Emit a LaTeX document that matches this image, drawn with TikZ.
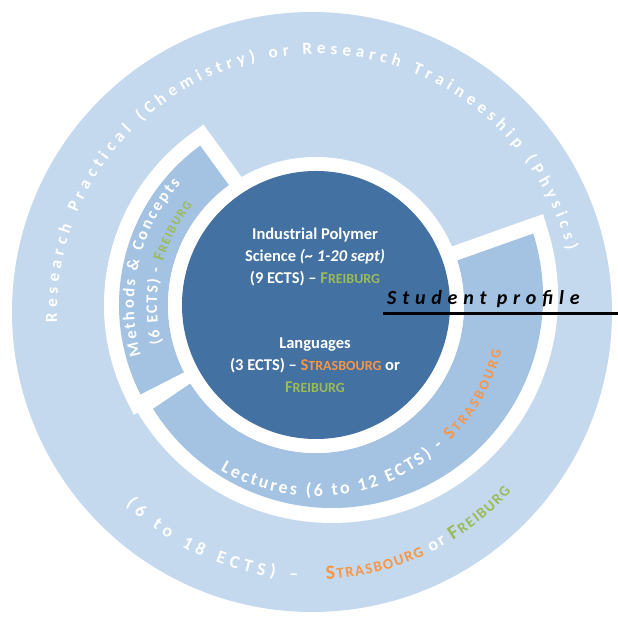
\documentclass[tikz,border=0pt]{standalone}
\usepackage{fontspec}
\setmainfont{Carlito}
\usetikzlibrary{decorations.text}
\definecolor{outerblue}{HTML}{C5D9EE}
\definecolor{midblue}{HTML}{A4C2E2}
\definecolor{darkblue}{HTML}{4271A2}
\definecolor{accorange}{HTML}{F79646}
\definecolor{accgreen}{HTML}{9BBB59}
\newcommand\fsc[2]{#1{\fontsize{14}{14}\selectfont #2}}
\tikzset{
  segborder/.style={draw=white, line width=30pt, line join=miter},
  segfill/.style={fill=midblue},
  centertext/.style={align=center, text=white, font=\fontsize{16.5}{22}\selectfont\bfseries},
}
\begin{document}
\begin{tikzpicture}[x=1pt,y=1pt]
\useasboundingbox (0,0) rectangle (618,618);
\coordinate (O) at (312,306);
\coordinate (T) at (316,305);
\coordinate (C) at (316,313);
\coordinate (M) at (332,321);
\fill[outerblue] (O) circle[radius=300];
% white borders of the two middle segments
\path[segborder] ([shift={(126:148)}]C) arc[start angle=126, end angle=207, radius=148]
  -- ([shift={(207:197)}]C) arc[start angle=207, end angle=126, radius=197] -- cycle;
\path[segborder] ([shift={(212:148)}]C) arc[start angle=212, end angle=377.5, radius=148]
  -- ([shift={(377.5:211)}]M) arc[start angle=377.5, end angle=212, radius=211] -- cycle;
% fills
\path[segfill] ([shift={(126:148)}]C) arc[start angle=126, end angle=207, radius=148]
  -- ([shift={(207:197)}]C) arc[start angle=207, end angle=126, radius=197] -- cycle;
\path[segfill] ([shift={(212:148)}]C) arc[start angle=212, end angle=377.5, radius=148]
  -- ([shift={(377.5:211)}]M) arc[start angle=377.5, end angle=212, radius=211] -- cycle;
\fill[white] (C) circle[radius=148];
\fill[darkblue] (C) circle[radius=134];
% outer ring texts
\path[decorate, decoration={text along path, text align=fit to path,
  text={|\color{white}\fontsize{17}{17}\selectfont\bfseries|Research Practical (Chemistry) or Research Traineeship (Physics)}}]
  ([shift={(182:259)}]T) arc[start angle=182, end angle=14, radius=259];
\path[decorate, decoration={text along path, text align=fit to path,
  text={|\color{white}\fontsize{18}{18}\selectfont\bfseries|(6 to 18 ECTS) {\textendash}}}]
  ([shift={(226:268)}]O) arc[start angle=226, end angle=267, radius=268];
\path[decorate, decoration={text along path, text align=fit to path,
  text={|\color{accorange}\fontsize{20}{20}\selectfont\bfseries|S|\color{accorange}\fontsize{15}{15}\selectfont\bfseries|TRASBOURG|\color{white}\fontsize{18}{18}\selectfont\bfseries| or |\color{accgreen}\fontsize{20}{20}\selectfont\bfseries|F|\color{accgreen}\fontsize{15}{15}\selectfont\bfseries|REIBURG}}]
  ([shift={(273:268)}]O) arc[start angle=273, end angle=318, radius=268];
% middle ring texts
\path[decorate, decoration={text along path, text align=fit to path,
  text={|\color{white}\fontsize{16.5}{16.5}\selectfont\bfseries|Methods {\&} Concepts}}]
  ([shift={(196:182)}]C) arc[start angle=196, end angle=138, radius=182];
\path[decorate, decoration={text along path, text align=fit to path,
  text={|\color{white}\fontsize{16}{16}\selectfont\bfseries|(6 ECTS) - |\color{accgreen}\fontsize{16}{16}\selectfont\bfseries|F|\color{accgreen}\fontsize{12.5}{12.5}\selectfont\bfseries|REIBURG}}]
  ([shift={(194:159)}]C) arc[start angle=194, end angle=141, radius=159];
\path[decorate, decoration={text along path, text align=fit to path,
  text={|\color{white}\fontsize{18}{18}\selectfont\bfseries|Lectures (6 to 12 ECTS) - |\color{accorange}\fontsize{18}{18}\selectfont\bfseries|S|\color{accorange}\fontsize{14}{14}\selectfont\bfseries|TRASBOURG}}]
  ([shift={(240:191)}]C) arc[start angle=240, end angle=346, radius=191];
% centre texts
\node[centertext] (ips) at (315,361) {Industrial Polymer\\Science \textit{(\textasciitilde{} 1-20 sept)}\\(9 ECTS) -- \textcolor{accgreen}{\fsc{F}{REIBURG}}};
\node[centertext] (lang) at (315,253) {Languages\\(3 ECTS) -- \textcolor{accorange}{\fsc{S}{TRASBOURG}} or\\\textcolor{accgreen}{\fsc{F}{REIBURG}}};
% student profile
\coordinate (lineL) at (383,304.5);
\coordinate (lineR) at (618,304.5);
\draw[line width=3.5pt] (lineL) -- (lineR);
\node[anchor=base west, inner sep=0pt, font=\fontsize{20}{20}\selectfont\bfseries\itshape\addfontfeature{LetterSpace=29}] (sp) at (387,313) {Student profile};
\end{tikzpicture}
\end{document}
